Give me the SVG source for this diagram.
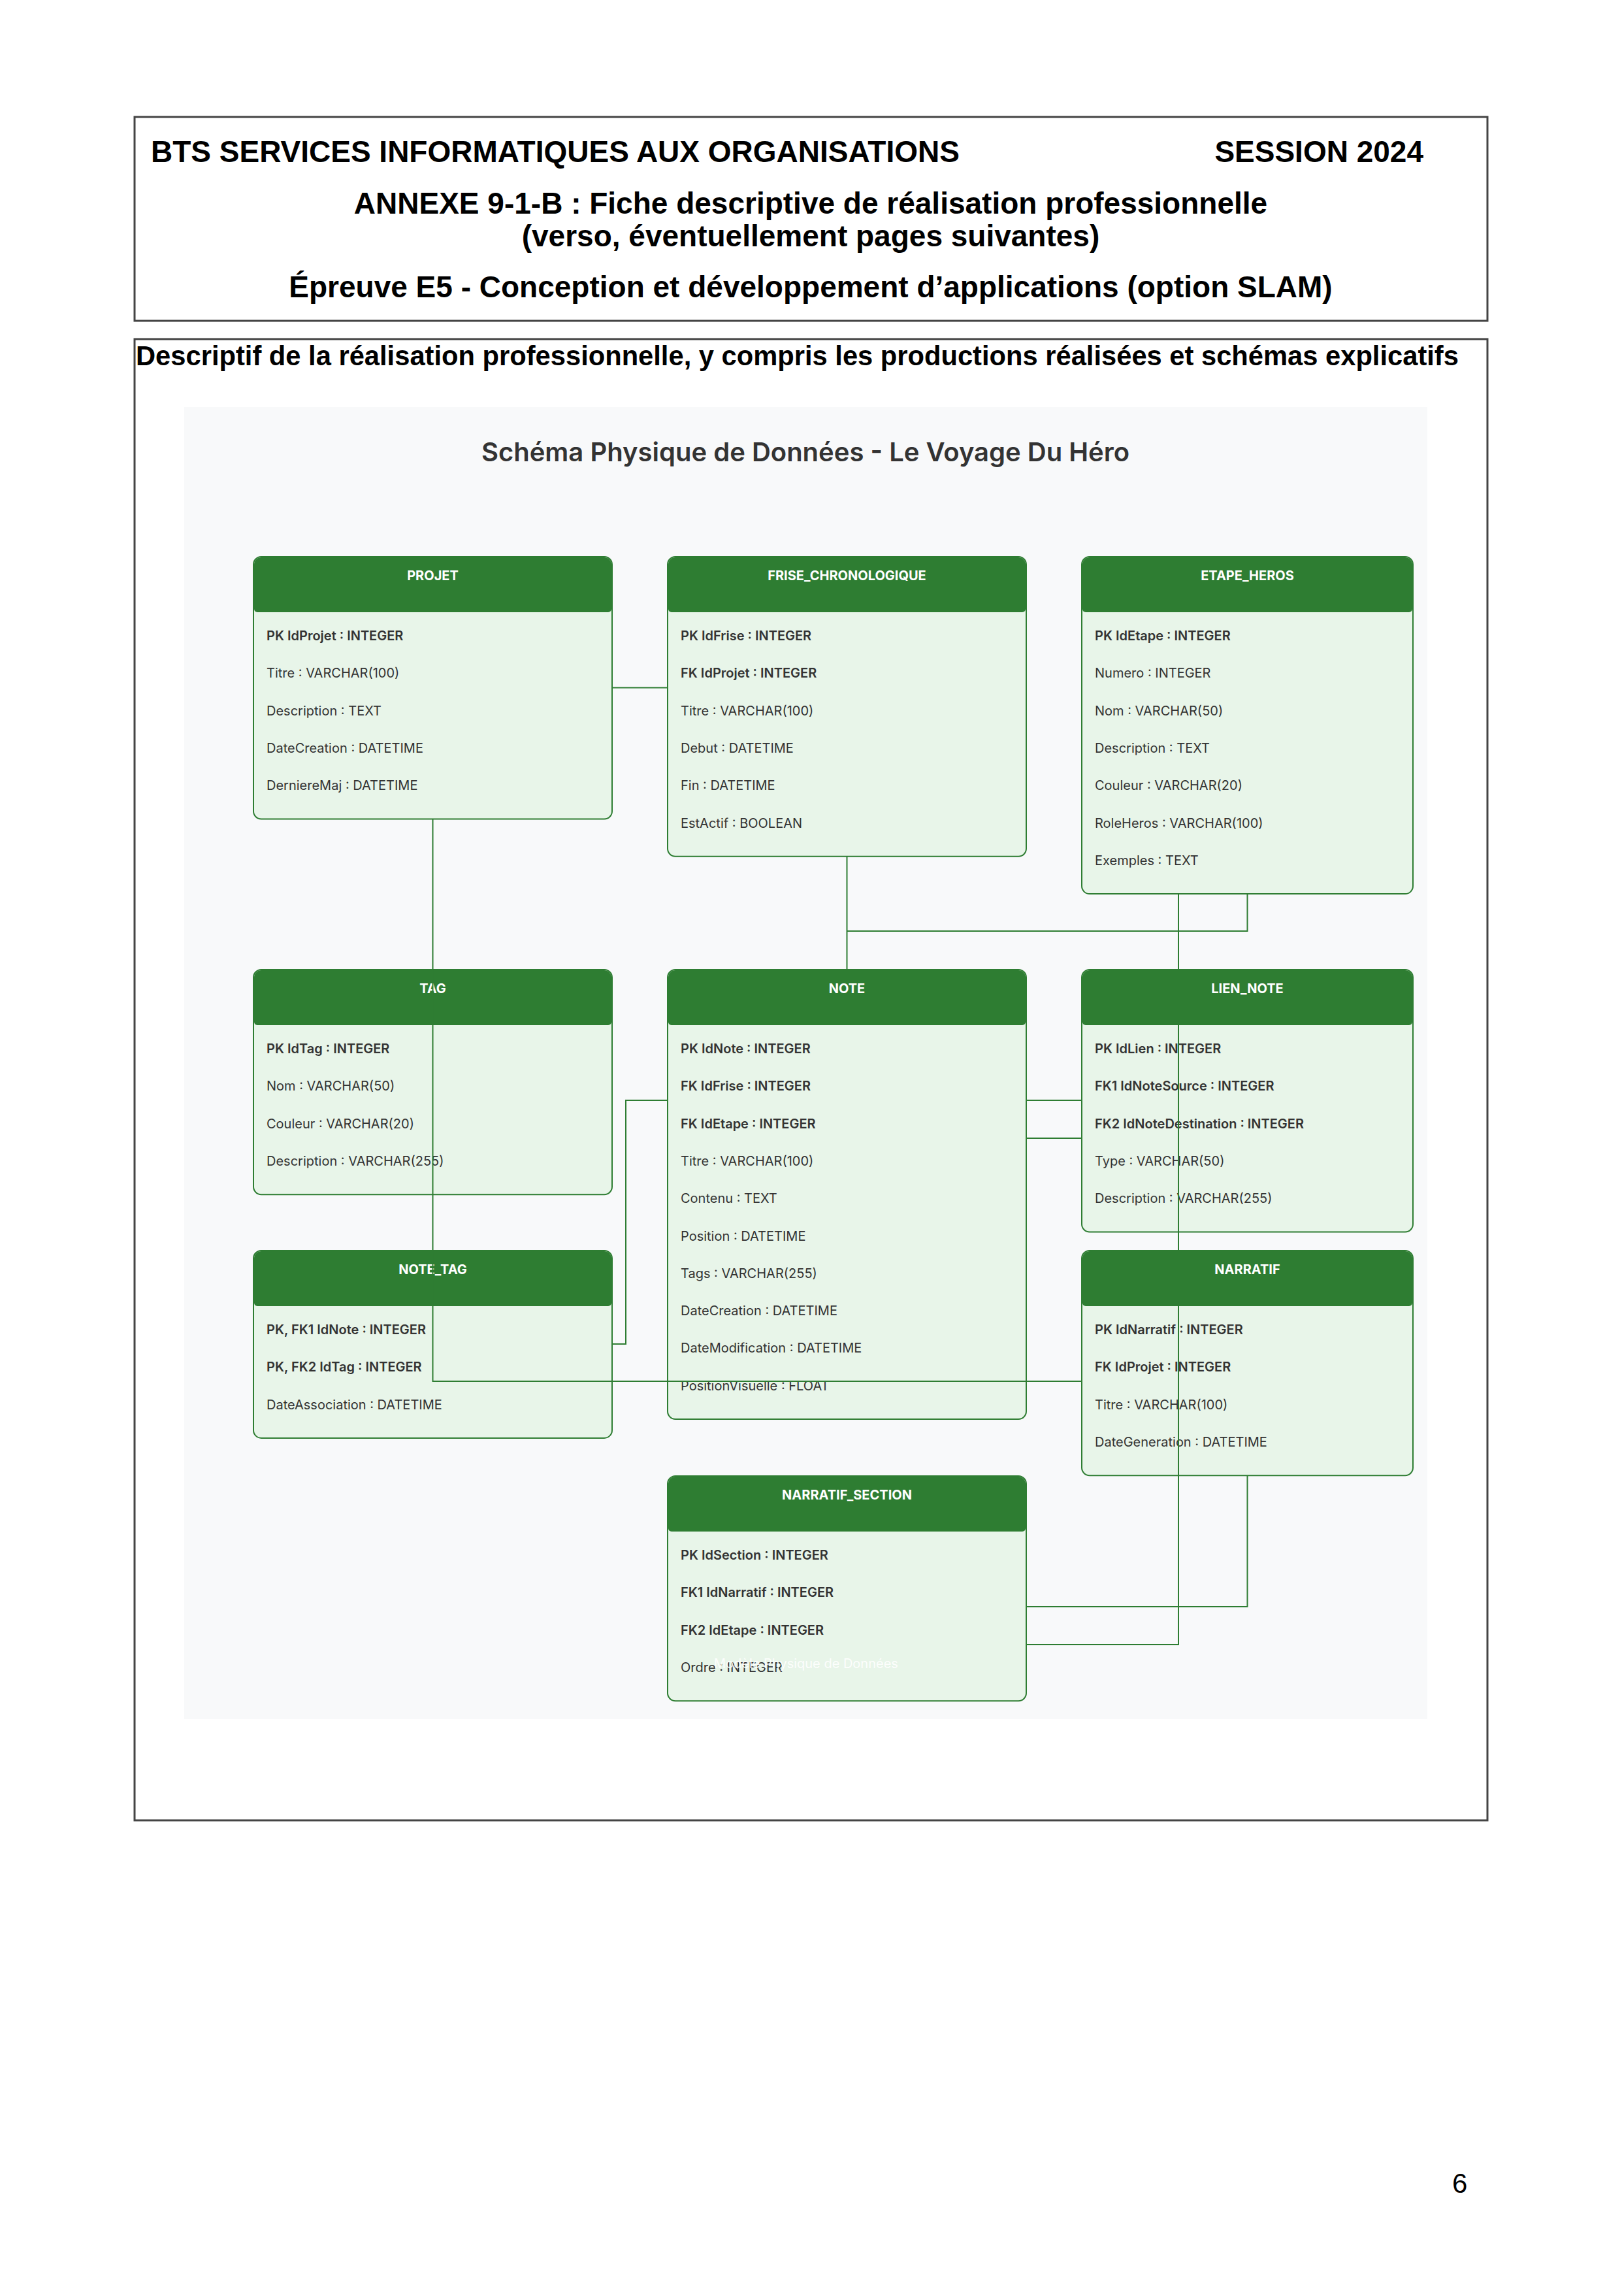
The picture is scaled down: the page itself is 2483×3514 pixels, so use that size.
<svg xmlns="http://www.w3.org/2000/svg" xmlns:xlink="http://www.w3.org/1999/xlink" width="2483" height="3514" viewBox="0 0 2483 3514">
<defs>
<style>
.frame{fill:none;stroke:#444;stroke-width:3}
.hdr{font-family:"Liberation Sans",Arial,sans-serif;font-weight:bold;font-size:46px;fill:#000}
.desc{font-family:"Liberation Sans",Arial,sans-serif;font-weight:bold;font-size:41.7px;fill:#000}
.title{font-family:Inter,"Noto Sans",sans-serif;font-weight:600;font-size:40px;fill:#333;text-anchor:middle}
.box{fill:#e8f5e9;stroke:#2e7d32;stroke-width:2}
.head{fill:#2e7d32}
.tn{font-family:Inter,"Noto Sans",sans-serif;font-weight:700;font-size:20px;fill:#fff;text-anchor:middle}
.f{font-family:Inter,"Noto Sans",sans-serif;font-size:20px;fill:#333}
.k{font-weight:600}
.wm{font-family:Inter,"Noto Sans",sans-serif;font-size:20px;fill:#fff;opacity:0.9}
.conn{fill:none;stroke:#2e7d32;stroke-width:2}
.pg{font-family:"Liberation Sans",Arial,sans-serif;font-size:42px;fill:#000}
</style>
<path id="h549" d="M1,80 V12 A11,11 0 0 1 12,1 H537 A11,11 0 0 1 548,12 V80 A5,5 0 0 1 543,85 H6 A5,5 0 0 1 1,80 Z"/>
<path id="h507" d="M1,80 V12 A11,11 0 0 1 12,1 H495 A11,11 0 0 1 506,12 V80 A5,5 0 0 1 501,85 H6 A5,5 0 0 1 1,80 Z"/>
</defs>
<rect width="2483" height="3514" fill="#fff"/>

<g id="page-header">
<rect class="frame" x="206" y="179" width="2071" height="312"/>
<text class="hdr" x="231" y="248">BTS SERVICES INFORMATIQUES AUX ORGANISATIONS</text>
<text class="hdr" x="2179" y="248" text-anchor="end">SESSION 2024</text>
<text class="hdr" x="1241" y="327" text-anchor="middle">ANNEXE 9-1-B : Fiche descriptive de réalisation professionnelle</text>
<text class="hdr" x="1241" y="377" text-anchor="middle">(verso, éventuellement pages suivantes)</text>
<text class="hdr" x="1241" y="455" text-anchor="middle">Épreuve E5 - Conception et développement d’applications (option SLAM)</text>
</g>

<g id="page-body">
<rect class="frame" x="206" y="519" width="2071" height="2267"/>
<text class="desc" x="208" y="559">Descriptif de la réalisation professionnelle, y compris les productions réalisées et schémas explicatifs</text>
<rect x="282" y="623" width="1903" height="2008" fill="#f8f9fa"/>
<text class="title" x="1233" y="706">Schéma Physique de Données - Le Voyage Du Héro</text>
</g>

<g id="PROJET" transform="translate(388,852)">
<rect class="box" width="549" height="401.5" rx="12"/>
<use href="#h549" class="head"/>
<text class="tn" x="274.5" y="36">PROJET</text>
<text class="f k" x="20" y="128">PK IdProjet : INTEGER</text>
<text class="f" x="20" y="185.3">Titre : VARCHAR(100)</text>
<text class="f" x="20" y="242.6">Description : TEXT</text>
<text class="f" x="20" y="299.9">DateCreation : DATETIME</text>
<text class="f" x="20" y="357.2">DerniereMaj : DATETIME</text>
</g>

<g id="FRISE_CHRONOLOGIQUE" transform="translate(1022,852)">
<rect class="box" width="549" height="458.8" rx="12"/>
<use href="#h549" class="head"/>
<text class="tn" x="274.5" y="36">FRISE_CHRONOLOGIQUE</text>
<text class="f k" x="20" y="128">PK IdFrise : INTEGER</text>
<text class="f k" x="20" y="185.3">FK IdProjet : INTEGER</text>
<text class="f" x="20" y="242.6">Titre : VARCHAR(100)</text>
<text class="f" x="20" y="299.9">Debut : DATETIME</text>
<text class="f" x="20" y="357.2">Fin : DATETIME</text>
<text class="f" x="20" y="414.5">EstActif : BOOLEAN</text>
</g>

<g id="ETAPE_HEROS" transform="translate(1656,852)">
<rect class="box" width="507" height="516.1" rx="12"/>
<use href="#h507" class="head"/>
<text class="tn" x="253.5" y="36">ETAPE_HEROS</text>
<text class="f k" x="20" y="128">PK IdEtape : INTEGER</text>
<text class="f" x="20" y="185.3">Numero : INTEGER</text>
<text class="f" x="20" y="242.6">Nom : VARCHAR(50)</text>
<text class="f" x="20" y="299.9">Description : TEXT</text>
<text class="f" x="20" y="357.2">Couleur : VARCHAR(20)</text>
<text class="f" x="20" y="414.5">RoleHeros : VARCHAR(100)</text>
<text class="f" x="20" y="471.8">Exemples : TEXT</text>
</g>

<g id="TAG" transform="translate(388,1484)">
<rect class="box" width="549" height="344.2" rx="12"/>
<use href="#h549" class="head"/>
<text class="tn" x="274.5" y="36">TAG</text>
<text class="f k" x="20" y="128">PK IdTag : INTEGER</text>
<text class="f" x="20" y="185.3">Nom : VARCHAR(50)</text>
<text class="f" x="20" y="242.6">Couleur : VARCHAR(20)</text>
<text class="f" x="20" y="299.9">Description : VARCHAR(255)</text>
</g>

<g id="NOTE" transform="translate(1022,1484)">
<rect class="box" width="549" height="688" rx="12"/>
<use href="#h549" class="head"/>
<text class="tn" x="274.5" y="36">NOTE</text>
<text class="f k" x="20" y="128">PK IdNote : INTEGER</text>
<text class="f k" x="20" y="185.3">FK IdFrise : INTEGER</text>
<text class="f k" x="20" y="242.6">FK IdEtape : INTEGER</text>
<text class="f" x="20" y="299.9">Titre : VARCHAR(100)</text>
<text class="f" x="20" y="357.2">Contenu : TEXT</text>
<text class="f" x="20" y="414.5">Position : DATETIME</text>
<text class="f" x="20" y="471.8">Tags : VARCHAR(255)</text>
<text class="f" x="20" y="529.1">DateCreation : DATETIME</text>
<text class="f" x="20" y="586.4">DateModification : DATETIME</text>
<text class="f" x="20" y="643.7">PositionVisuelle : FLOAT</text>
</g>

<g id="LIEN_NOTE" transform="translate(1656,1484)">
<rect class="box" width="507" height="401.5" rx="12"/>
<use href="#h507" class="head"/>
<text class="tn" x="253.5" y="36">LIEN_NOTE</text>
<text class="f k" x="20" y="128">PK IdLien : INTEGER</text>
<text class="f k" x="20" y="185.3">FK1 IdNoteSource : INTEGER</text>
<text class="f k" x="20" y="242.6">FK2 IdNoteDestination : INTEGER</text>
<text class="f" x="20" y="299.9">Type : VARCHAR(50)</text>
<text class="f" x="20" y="357.2">Description : VARCHAR(255)</text>
</g>

<g id="NOTE_TAG" transform="translate(388,1914)">
<rect class="box" width="549" height="286.9" rx="12"/>
<use href="#h549" class="head"/>
<text class="tn" x="274.5" y="36">NOTE_TAG</text>
<text class="f k" x="20" y="128">PK, FK1 IdNote : INTEGER</text>
<text class="f k" x="20" y="185.3">PK, FK2 IdTag : INTEGER</text>
<text class="f" x="20" y="242.6">DateAssociation : DATETIME</text>
</g>

<g id="NARRATIF" transform="translate(1656,1914)">
<rect class="box" width="507" height="344.2" rx="12"/>
<use href="#h507" class="head"/>
<text class="tn" x="253.5" y="36">NARRATIF</text>
<text class="f k" x="20" y="128">PK IdNarratif : INTEGER</text>
<text class="f k" x="20" y="185.3">FK IdProjet : INTEGER</text>
<text class="f" x="20" y="242.6">Titre : VARCHAR(100)</text>
<text class="f" x="20" y="299.9">DateGeneration : DATETIME</text>
</g>

<g id="NARRATIF_SECTION" transform="translate(1022,2259)">
<rect class="box" width="549" height="344.2" rx="12"/>
<use href="#h549" class="head"/>
<text class="tn" x="274.5" y="36">NARRATIF_SECTION</text>
<text class="f k" x="20" y="128">PK IdSection : INTEGER</text>
<text class="f k" x="20" y="185.3">FK1 IdNarratif : INTEGER</text>
<text class="f k" x="20" y="242.6">FK2 IdEtape : INTEGER</text>
<text class="f" x="20" y="299.9">Ordre : INTEGER</text>
<text class="wm" x="71" y="294">Modèle Physique de Données</text>
</g>

<g id="connectors">
<path class="conn" d="M937,1052.5 H1022"/>
<path class="conn" d="M1296.5,1310.8 V1484"/>
<path class="conn" d="M1909.5,1368 V1425 H1296.5"/>
<path class="conn" d="M1804,1368 V2517 H1571"/>
<path class="conn" d="M1909.5,2258 V2459 H1571"/>
<path class="conn" d="M1571,1684 H1656"/>
<path class="conn" d="M1571,1742 H1656"/>
<path class="conn" d="M1022,1684 H958 V2057 H937"/>
<path class="conn" d="M662.5,1253.5 V2114 H1656"/>
</g>

<text class="pg" x="2223" y="3356">6</text>
</svg>
